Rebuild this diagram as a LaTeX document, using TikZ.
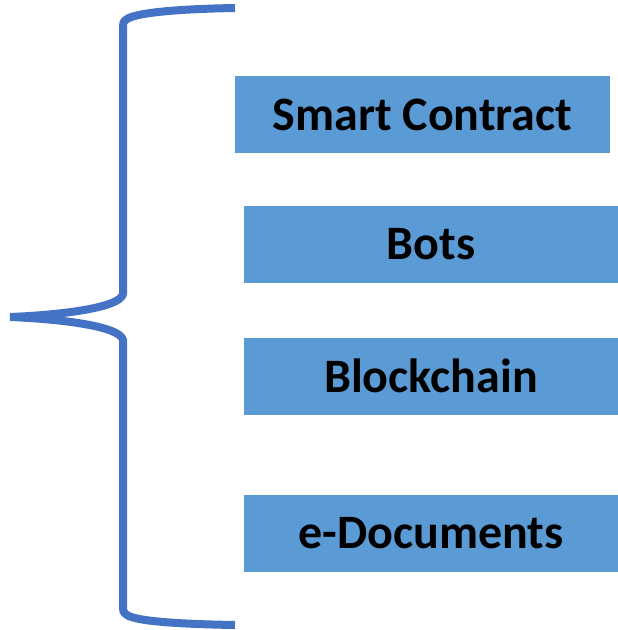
\documentclass[tikz,border=0pt]{standalone}
\usepackage{fontspec}
\setmainfont{Carlito}
\definecolor{bracecol}{HTML}{4472C4}
\definecolor{boxcol}{HTML}{5B9BD5}
\begin{document}
\begin{tikzpicture}[x=1pt,y=-1pt,
  itembox/.style={fill=boxcol,draw=none,inner sep=0pt,font=\fontsize{48}{56}\selectfont\bfseries,text=black},
  bracestyle/.style={draw=bracecol,line width=8pt,line cap=butt}]
\useasboundingbox (0,0) rectangle (618,630);
\node[itembox,minimum width=375pt,minimum height=77pt] (sc) at (422.5,114.5) {Smart Contract};
\node[itembox,minimum width=374pt,minimum height=77pt] (bots) at (431,244) {Bots};
\node[itembox,minimum width=374pt,minimum height=77pt] (bc) at (431,376) {Blockchain};
\node[itembox,minimum width=374pt,minimum height=77pt] (ed) at (431,533) {e-Documents};
\coordinate (top) at (235,8);
\coordinate (tip) at (10,317);
\coordinate (bot) at (235,625);
\draw[bracestyle] (top) .. controls (175,9) and (136,13) .. (127,19)
  .. controls (123,22) .. (123,30) -- (123,294)
  .. controls (120,308) and (60,315) .. (tip)
  .. controls (60,319) and (120,326) .. (123,340) -- (123,603)
  .. controls (123,612) .. (127,615)
  .. controls (136,621) and (175,624) .. (bot);
\end{tikzpicture}
\end{document}
